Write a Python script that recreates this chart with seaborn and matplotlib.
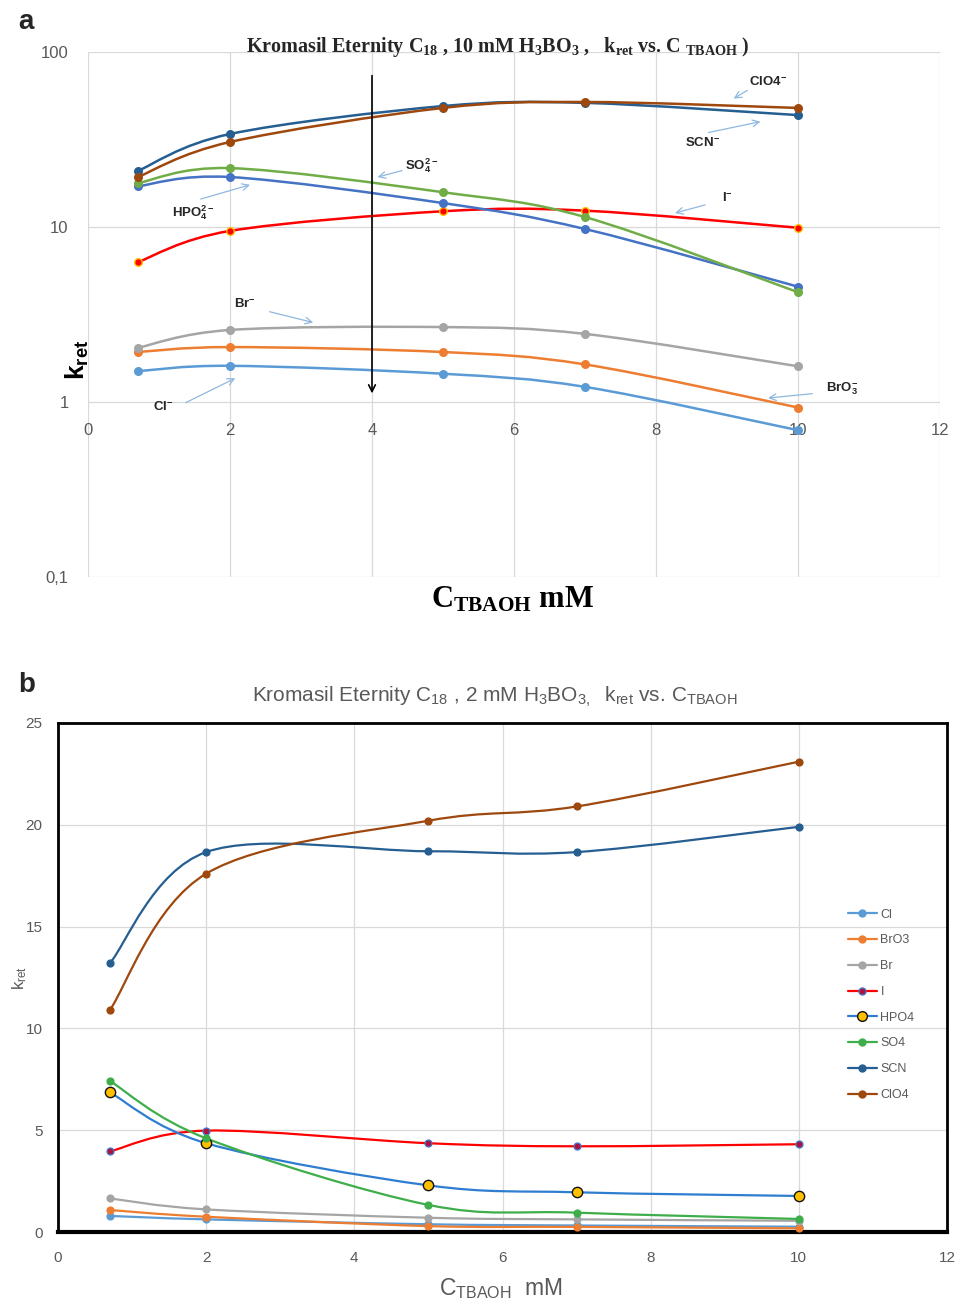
import numpy as np
import matplotlib
matplotlib.use("Agg")
import matplotlib.pyplot as plt
import seaborn as sns
from matplotlib.path import Path
from matplotlib.patches import PathPatch
from matplotlib.lines import Line2D
from matplotlib.ticker import NullLocator

# TBAOH concentration (mM) used for both panels
c_tbaoh = [0.7, 2, 5, 7, 10]
ions = ["Cl", "BrO3", "Br", "I", "HPO4", "SO4", "SCN", "ClO4"]

# panel a: 10 mM H3BO3 (log scale)
k10_cl = [1.50, 1.61, 1.45, 1.22, 0.69]
k10_bro3 = [1.93, 2.06, 1.93, 1.64, 0.93]
k10_br = [2.04, 2.58, 2.68, 2.45, 1.60]
k10_i = [6.3, 9.5, 12.3, 12.4, 9.9]
k10_hpo4 = [17.1, 19.3, 13.7, 9.74, 4.56]
k10_so4 = [17.8, 21.7, 15.8, 11.4, 4.24]
k10_scn = [20.9, 34.0, 49.1, 51.2, 43.6]
k10_clo4 = [19.3, 30.6, 47.9, 51.8, 47.9]

# panel b: 2 mM H3BO3 (linear scale)
k2_cl = [0.79, 0.62, 0.38, 0.32, 0.26]
k2_bro3 = [1.08, 0.75, 0.29, 0.25, 0.18]
k2_br = [1.65, 1.11, 0.70, 0.62, 0.55]
k2_i = [3.96, 4.98, 4.36, 4.21, 4.31]
k2_hpo4 = [6.86, 4.36, 2.29, 1.95, 1.77]
k2_so4 = [7.42, 4.60, 1.33, 0.95, 0.64]
k2_scn = [13.2, 18.66, 18.7, 18.66, 19.9]
k2_clo4 = [10.9, 17.6, 20.2, 20.9, 23.1]

k10 = [k10_cl, k10_bro3, k10_br, k10_i, k10_hpo4, k10_so4, k10_scn, k10_clo4]
k2 = [k2_cl, k2_bro3, k2_br, k2_i, k2_hpo4, k2_so4, k2_scn, k2_clo4]

# (line colour, marker face, marker edge)
style10 = {
    "Cl": ("#5B9BD5", "#5B9BD5", "#5B9BD5"),
    "BrO3": ("#ED7D31", "#ED7D31", "#ED7D31"),
    "Br": ("#A5A5A5", "#A5A5A5", "#A5A5A5"),
    "I": ("#FF0000", "#FF0000", "#FFC000"),
    "HPO4": ("#4472C4", "#4472C4", "#4472C4"),
    "SO4": ("#70AD47", "#70AD47", "#70AD47"),
    "SCN": ("#255E91", "#255E91", "#255E91"),
    "ClO4": ("#9E480E", "#9E480E", "#9E480E"),
}
style2 = {
    "Cl": ("#5B9BD5", "#5B9BD5", "#5B9BD5"),
    "BrO3": ("#ED7D31", "#ED7D31", "#ED7D31"),
    "Br": ("#A5A5A5", "#A5A5A5", "#A5A5A5"),
    "I": ("#FF0000", "#B0103C", "#4472C4"),
    "HPO4": ("#2E7DD1", "#FFC000", "#111111"),
    "SO4": ("#3DAE49", "#3DAE49", "#3DAE49"),
    "SCN": ("#255E91", "#255E91", "#255E91"),
    "ClO4": ("#9E480E", "#9E480E", "#9E480E"),
}

GRID = "#D9D9D9"
TXT = "#595959"


def smooth_path(xs, ys, log=False):
    """Excel-like smoothed line: cubic Bezier segments through the points."""
    px = np.asarray(xs, float)
    py = np.log10(ys) if log else np.asarray(ys, float)
    pts = np.column_stack([px, py])
    n = len(pts)
    verts, codes = [pts[0]], [Path.MOVETO]
    for i in range(n - 1):
        p0 = pts[max(i - 1, 0)]
        p1, p2 = pts[i], pts[i + 1]
        p3 = pts[min(i + 2, n - 1)]
        verts += [p1 + (p2 - p0) / 6, p2 - (p3 - p1) / 6, p2]
        codes += [Path.CURVE4] * 3
    verts = np.array(verts)
    if log:
        verts[:, 1] = 10 ** verts[:, 1]
    return Path(verts, codes)


def draw_series(ax, vals, style, log, lw, size, hpo4_size):
    for ion, ys in zip(ions, vals):
        line, face, edge = style[ion]
        ax.add_patch(PathPatch(smooth_path(c_tbaoh, ys, log), facecolor="none",
                               edgecolor=line, lw=lw, zorder=3, capstyle="round"))
        s = hpo4_size if ion == "HPO4" else size
        sns.scatterplot(x=c_tbaoh, y=ys, ax=ax, color=face, edgecolor=edge,
                        linewidth=1.0, s=s, zorder=4, legend=False)


sns.set_theme(style="white")
plt.rcParams["font.family"] = ["Liberation Sans", "DejaVu Sans"]

fig = plt.figure(figsize=(9.58, 13.03), dpi=100)
W, H = 958, 1303


def fx(px):
    return px / W


def fy(py):
    return 1 - py / H


# ---------------- panel a ----------------
ax1 = fig.add_axes([fx(88), fy(577), (940 - 88) / W, (577 - 52) / H])
ax1.set_yscale("log")
ax1.set_xlim(0, 12)
ax1.set_ylim(0.1, 100)
draw_series(ax1, k10, style10, True, 1.8, 30, 30)
ax1.set_xticks(range(0, 13, 2))
ax1.set_yticks([0.1, 1, 10, 100])
ax1.set_yticklabels(["0,1", "1", "10", "100"])
ax1.yaxis.set_minor_locator(NullLocator())
for sp in ax1.spines.values():
    sp.set_visible(False)
ax1.spines["bottom"].set_position(("data", 1))
ax1.grid(True, color=GRID, lw=0.9)
ax1.tick_params(axis="x", length=0, pad=15, labelsize=12, labelcolor=TXT)
ax1.tick_params(axis="y", length=0, pad=14, labelsize=12, labelcolor=TXT)
ax1.set_xlabel("")
ax1.set_ylabel("")

ax1.annotate("", xy=(4, 1.08), xytext=(4, 76),
             arrowprops=dict(arrowstyle="->", color="black", lw=1.2), zorder=5)

arrow_kw = dict(arrowstyle="->", color="#8FB8E0", lw=0.9)
labels_a = [
    ("ClO4$\\mathregular{^{-}}$", (9.58, 67.4), (9.32, 61.5), (9.06, 53.2)),
    ("SCN$\\mathregular{^{-}}$", (8.66, 30.2), (8.70, 34.4), (9.51, 40.3)),
    ("$\\mathregular{SO_4^{2-}}$", (4.70, 22.3), (4.46, 21.2), (4.04, 19.1)),
    ("$\\mathregular{HPO_4^{2-}}$", (1.48, 12.0), (1.55, 14.3), (2.32, 17.6)),
    ("I$\\mathregular{^{-}}$", (9.0, 14.5), (8.73, 13.5), (8.23, 11.9)),
    ("Br$\\mathregular{^{-}}$", (2.21, 3.63), (2.52, 3.31), (3.21, 2.82)),
    ("$\\mathregular{BrO_3^{-}}$", (10.62, 1.19), (10.24, 1.12), (9.54, 1.05)),
    ("Cl$\\mathregular{^{-}}$", (1.06, 0.925), (1.34, 0.975), (2.11, 1.39)),
]
for txt, pos, tail, head in labels_a:
    ax1.text(*pos, txt, ha="center", va="center", fontsize=9.5,
             fontweight="bold", color="#262626", zorder=6)
    ax1.annotate("", xy=head, xytext=tail, arrowprops=arrow_kw, zorder=5)

fig.text(fx(498), fy(47),
         "Kromasil Eternity $\\mathregular{C_{18}}$ , 10 mM $\\mathregular{H_3BO_3}$ ,   "
         "$\\mathregular{k_{ret}}$ vs. C $\\mathregular{{}_{TBAOH}}$ )",
         ha="center", va="center", fontsize=14.5, fontweight="bold",
         family="Liberation Serif", color="#262626")
fig.text(fx(513), fy(600), "$\\mathregular{C_{TBAOH}}$ mM", ha="center", va="center",
         fontsize=22, fontweight="bold", family="Liberation Serif", color="black")
fig.text(fx(77), fy(360), "$\\mathregular{k_{ret}}$", ha="center", va="center",
         rotation=90, fontsize=19, fontweight="bold", color="black")
fig.text(fx(18), fy(22), "a", ha="left", va="center", fontsize=20, fontweight="bold")

# ---------------- panel b ----------------
ax2 = fig.add_axes([fx(58), fy(1232), (947 - 58) / W, (1232 - 723) / H])
ax2.set_xlim(0, 12)
ax2.set_ylim(0, 25)
draw_series(ax2, k2, style2, False, 1.6, 24, 55)
ax2.set_xticks(range(0, 13, 2))
ax2.set_yticks(range(0, 26, 5))
ax2.grid(True, color=GRID, lw=0.9)
for sp in ax2.spines.values():
    sp.set_visible(True)
    sp.set_color("black")
    sp.set_linewidth(2)
ax2.spines["bottom"].set_linewidth(3)
ax2.tick_params(axis="x", length=0, pad=14, labelsize=11, labelcolor=TXT)
ax2.tick_params(axis="y", length=0, pad=11, labelsize=11, labelcolor=TXT)
ax2.set_xlabel("")
ax2.set_ylabel("")

handles = []
for ion in ions:
    line, face, edge = style2[ion]
    handles.append(Line2D([0], [0], color=line, lw=1.6, marker="o",
                          markerfacecolor=face, markeredgecolor=edge,
                          markersize=7 if ion == "HPO4" else 5))
leg = ax2.legend(handles, ions, loc="upper left", bbox_to_anchor=(0.883, 0.645),
                 frameon=False, fontsize=9, labelspacing=1.1, handlelength=2.3,
                 handletextpad=0.3, borderaxespad=0)
for t in leg.get_texts():
    t.set_color(TXT)

fig.text(fx(495), fy(697),
         "Kromasil Eternity $\\mathregular{C_{18}}$ , 2 mM $\\mathregular{H_3BO_{3,}}$  "
         "$\\mathregular{k_{ret}}$ vs. $\\mathregular{C_{TBAOH}}$",
         ha="center", va="center", fontsize=15, color=TXT)
fig.text(fx(501), fy(1289), "$\\mathregular{C_{TBAOH}}$  mM", ha="center", va="center",
         fontsize=16.5, color=TXT)
fig.text(fx(20), fy(978), "$\\mathregular{k_{ret}}$", ha="center", va="center",
         rotation=90, fontsize=12, color=TXT)
fig.text(fx(18), fy(685), "b", ha="left", va="center", fontsize=20, fontweight="bold")

fig.savefig("out.png", dpi=100)
plt.close(fig)
